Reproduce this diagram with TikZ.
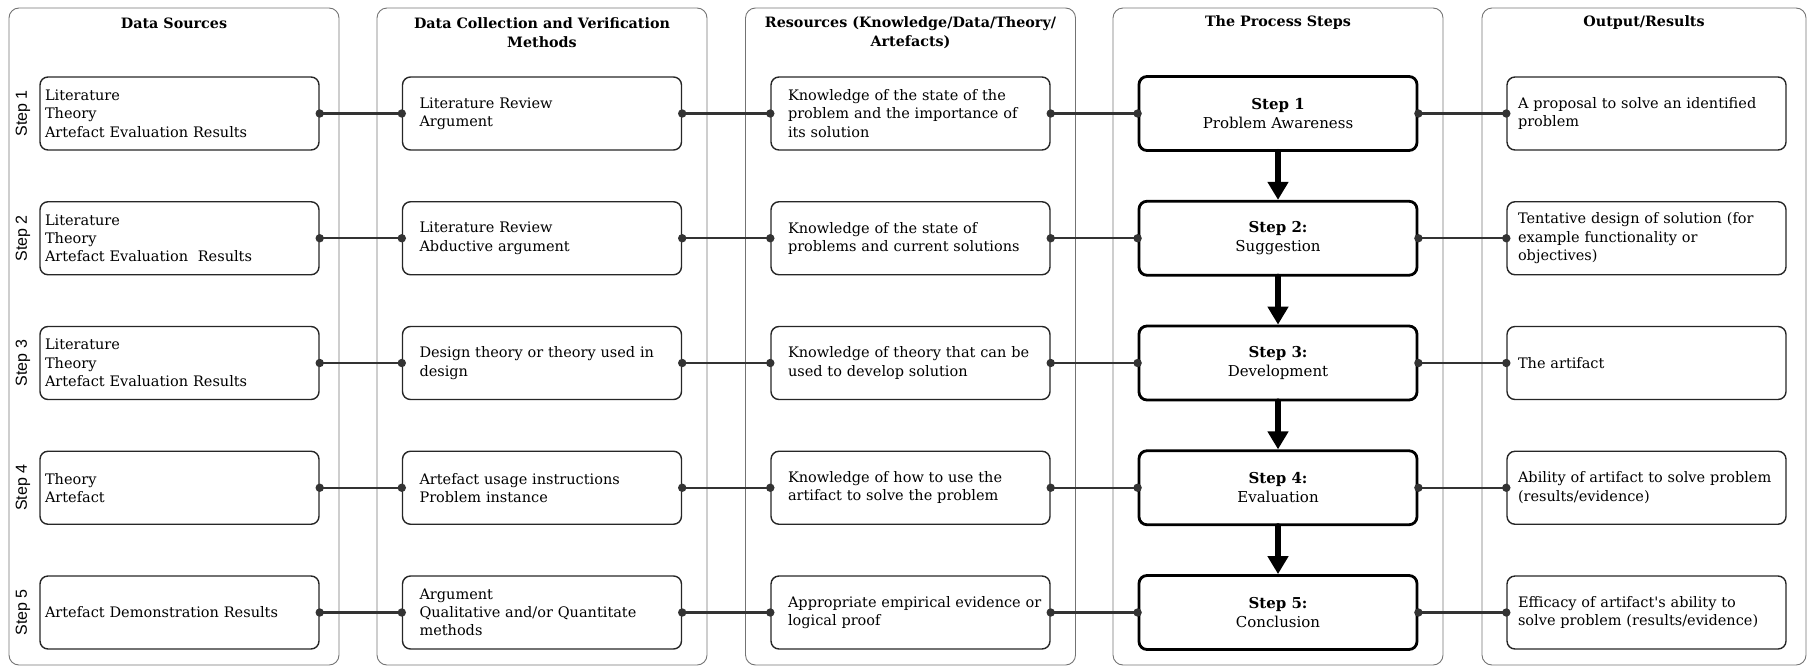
\documentclass[tikz,border=0pt]{standalone}
\usepackage{fontspec}
\setmainfont{DejaVu Serif}
\setsansfont{Liberation Sans}
\usetikzlibrary{arrows.meta}

\begin{document}
\begin{tikzpicture}[x=1pt,y=-1pt,
  colbox/.style={draw=black!55, line width=0.9pt, rounded corners=10pt,
    minimum width=330pt, minimum height=657pt, inner sep=0pt},
  coltitle/.style={font=\bfseries\fontsize{14.3}{19}\selectfont, align=center},
  item/.style={draw=black!85, line width=1.4pt, rounded corners=8pt,
    minimum height=73pt, align=left, inner ysep=0pt,
    font=\fontsize{14.5}{18.3}\selectfont},
  itemA/.style={item, inner xsep=5pt, text width=269pt},
  itemB/.style={item, inner xsep=17pt, text width=245pt},
  itemE/.style={item, inner xsep=11pt, text width=257pt},
  stepbox/.style={draw=black, line width=2.8pt, rounded corners=8pt,
    minimum width=278pt, minimum height=74pt, align=center, inner sep=0pt,
    font=\fontsize{15}{19.5}\selectfont},
  steplabel/.style={rotate=90, font=\sffamily\fontsize{16}{18}\selectfont},
  link/.style={draw=black!80, line width=2.2pt},
  flow/.style={draw=black, line width=6pt, line cap=round,
    -{Triangle[width=20pt,length=18pt]}}
]
\useasboundingbox (0,0) rectangle (1809,667);

% column frames
\node[colbox] (c1) at (174,336.5) {};
\node[colbox] (c2) at (542,336.5) {};
\node[colbox] (c3) at (910.5,336.5) {};
\node[colbox] (c4) at (1278,336.5) {};
\node[colbox, minimum width=324pt] (c5) at (1644,336.5) {};

% column titles
\node[coltitle] (t1) at (174,23) {Data Sources};
\node[coltitle] (t2) at (542,32.5) {Data Collection and Verification\\Methods};
\node[coltitle] (t3) at (910.5,32.5) {Resources (Knowledge/Data/Theory/\\Artefacts)};
\node[coltitle] (t4) at (1278,23) {The Process Steps};
\node[coltitle] (t5) at (1644,23) {Output/Results};

% rows
\def\rA{113.5}
\def\rB{238.25}
\def\rC{363}
\def\rD{487.75}
\def\rE{612.5}

% row labels
\node[steplabel] (l1) at (23,\rA) {Step 1};
\node[steplabel] (l2) at (23,\rB) {Step 2};
\node[steplabel] (l3) at (23,\rC) {Step 3};
\node[steplabel] (l4) at (23,\rD) {Step 4};
\node[steplabel] (l5) at (23,\rE) {Step 5};

% data sources
\node[itemA] (a1) at (179.5,\rA) {Literature\\Theory\\Artefact Evaluation Results};
\node[itemA] (a2) at (179.5,\rB) {Literature\\Theory\\Artefact Evaluation \ Results};
\node[itemA] (a3) at (179.5,\rC) {Literature\\Theory\\Artefact Evaluation Results};
\node[itemA] (a4) at (179.5,\rD) {Theory\\Artefact};
\node[itemA] (a5) at (179.5,\rE) {Artefact Demonstration Results};

% collection and verification methods
\node[itemB] (b1) at (542,\rA) {Literature Review\\Argument};
\node[itemB] (b2) at (542,\rB) {Literature Review\\Abductive argument};
\node[itemB] (b3) at (542,\rC) {Design theory or theory used in\\design};
\node[itemB] (b4) at (542,\rD) {Artefact usage instructions\\Problem instance};
\node[itemB] (b5) at (542,\rE) {Argument\\Qualitative and/or Quantitate\\methods};

% resources
\node[itemB] (k1) at (910.5,\rA) {\mbox{Knowledge of the state of the}\\\mbox{problem and the importance of}\\its solution};
\node[itemB] (k2) at (910.5,\rB) {Knowledge of the state of\\\mbox{problems and current solutions}};
\node[itemB] (k3) at (910.5,\rC) {\mbox{Knowledge of theory that can be}\\used to develop solution};
\node[itemB] (k4) at (910.5,\rD) {Knowledge of how to use the\\\mbox{artifact to solve the problem}};
\node[itemB] (k5) at (910.5,\rE) {\mbox{Appropriate empirical evidence or}\\logical proof};

% process steps
\node[stepbox] (p1) at (1278,\rA) {\textbf{Step 1}\\Problem Awareness};
\node[stepbox] (p2) at (1278,\rB) {\textbf{Step 2:}\\Suggestion};
\node[stepbox] (p3) at (1278,\rC) {\textbf{Step 3:}\\Development};
\node[stepbox] (p4) at (1278,\rD) {\textbf{Step 4:}\\Evaluation};
\node[stepbox] (p5) at (1278,\rE) {\textbf{Step 5:}\\Conclusion};

% outputs
\node[itemE] (o1) at (1646.5,\rA) {\mbox{A proposal to solve an identified}\\problem};
\node[itemE] (o2) at (1646.5,\rB) {\mbox{Tentative design of solution (for}\\example functionality or\\objectives)};
\node[itemE] (o3) at (1646.5,\rC) {The artifact};
\node[itemE] (o4) at (1646.5,\rD) {\mbox{Ability of artifact to solve problem}\\(results/evidence)};
\node[itemE] (o5) at (1646.5,\rE) {Efficacy of artifact\textquotesingle s ability to\\\mbox{solve problem (results/evidence)}};

% horizontal links with dotted ends
\foreach \i in {1,...,5}{
  \foreach \u/\v in {a/b, b/k, k/p, p/o}{
    \draw[link] (\u\i.east) -- (\v\i.west);
    \fill[black!80] (\u\i.east) circle (4.2);
    \fill[black!80] (\v\i.west) circle (4.2);
  }
}

% flow between steps
\draw[flow] (p1.south) -- (p2.north);
\draw[flow] (p2.south) -- (p3.north);
\draw[flow] (p3.south) -- (p4.north);
\draw[flow] (p4.south) -- (p5.north);
\end{tikzpicture}
\end{document}
